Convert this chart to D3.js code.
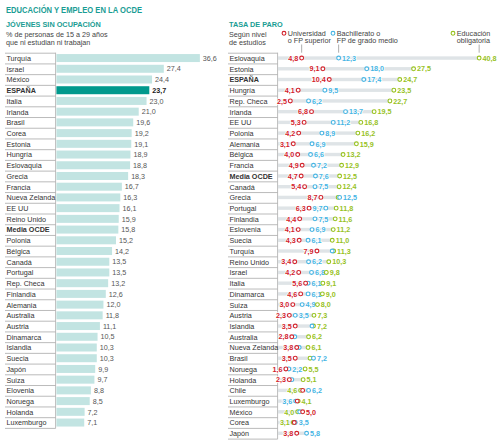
<!DOCTYPE html>
<html>
<head>
<meta charset="utf-8">
<script src="https://cdn.jsdelivr.net/npm/d3@7"></script>
<style>
body { margin: 0; background: #fff; }
text { font-family: "Liberation Sans", Arial, sans-serif; }
</style>
</head>
<body>
<div id="chart-area"></div>
<script>
// Jóvenes sin ocupación (% de 15 a 29 años)
var neetCountries = ["Turquía", "Israel", "México", "ESPAÑA", "Italia", "Irlanda", "Brasil", "Corea",
	"Estonia", "Hungría", "Eslovaquia", "Grecia", "Francia", "Nueva Zelanda", "EE UU", "Reino Unido",
	"Media OCDE", "Polonia", "Bélgica", "Canadá", "Portugal", "Rep. Checa", "Finlandia", "Alemania",
	"Australia", "Austria", "Dinamarca", "Islandia", "Suecia", "Japón", "Suiza", "Elovenia", "Noruega",
	"Holanda", "Luxemburgo"];
var neetValues = [36.6, 27.4, 24.4, 23.7, 23.0, 21.0, 19.6, 19.2, 19.1, 18.9, 18.8, 18.3, 16.7, 16.3,
	16.1, 15.9, 15.8, 15.2, 14.2, 13.5, 13.5, 13.2, 12.6, 12.0, 11.8, 11.1, 10.5, 10.3, 10.3, 9.9, 9.7,
	8.8, 8.5, 7.2, 7.1];

// Tasa de paro segun nivel de estudios
var paroCountries = ["Eslovaquia", "Estonia", "ESPAÑA", "Hungría", "Rep. Checa", "Irlanda", "EE UU",
	"Polonia", "Alemania", "Bélgica", "Francia", "Media OCDE", "Canadá", "Grecia", "Portugal", "Finlandia",
	"Eslovenia", "Suecia", "Turquía", "Reino Unido", "Israel", "Italia", "Dinamarca", "Suiza", "Austria",
	"Islandia", "Australia", "Nueva Zelanda", "Brasil", "Noruega", "Holanda", "Chile", "Luxemburgo",
	"México", "Corea", "Japón"];
var paroUniv = [4.8, 9.1, 10.4, 4.1, 2.5, 6.8, 5.3, 4.2, 3.1, 4.0, 4.9, 4.7, 5.4, 8.7, 6.3, 4.4, 4.1,
	4.3, 7.9, 3.4, 4.2, 5.6, 4.6, 3.0, 2.3, 3.5, 2.8, 3.8, 3.5, 1.6, 2.3, 5.0, 3.9, 5.0, 3.3, 3.8];
var paroBach = [12.3, 18.0, 17.4, 9.5, 6.2, 13.7, 11.2, 8.9, 6.9, 6.6, 7.2, 7.6, 7.5, 12.5, 9.7, 7.5,
	6.9, 6.1, 11.0, 6.2, 6.8, 6.1, 6.1, 4.9, 3.5, 6.9, 3.4, 4.3, 7.2, 2.2, 2.8, 6.2, 3.6, 4.4, 3.5, 5.8];
var paroOblig = [40.8, 27.5, 24.7, 23.5, 22.7, 19.5, 16.8, 16.2, 15.9, 13.2, 12.9, 12.5, 12.4, 12.2,
	11.8, 11.6, 11.2, 11.0, 11.3, 10.3, 9.8, 9.1, 9.0, 8.0, 7.3, 7.2, 6.2, 6.1, 6.5, 5.5, 5.1, 4.6, 4.1,
	4.0, 3.1, null];

var width = 500, height = 442;
var teal = "#1a9d94", spainTeal = "#00998d", barColor = "#c2e4e2";
var colors = {u: "#d3222b", b: "#46b5e4", o: "#97c21e"};
var rowH = 10.72, top0 = 52.7, fs = "7.2px";
var bold = function(d){ return (d == "ESPAÑA" || d == "Media OCDE") ? "bold" : "normal"; };

var fmt = d3.formatLocale({decimal: ",", thousands: ".", grouping: [3], currency: ["", ""]}).format(".1f");

var svg = d3.select("#chart-area")
.append("svg")
	.attr("width", width)
	.attr("height", height);

	// Titles
svg.append("text")
	.attr("x", 6).attr("y", 12.5)
	.attr("font-size", "9px").attr("font-weight", "bold")
	.attr("fill", teal)
	.attr("textLength", 136).attr("lengthAdjust", "spacingAndGlyphs")
	.text("EDUCACIÓN Y EMPLEO EN LA OCDE");

svg.append("text")
	.attr("x", 6).attr("y", 26.8)
	.attr("font-size", "7.3px").attr("font-weight", "bold")
	.attr("fill", teal)
	.text("JÓVENES SIN OCUPACIÓN");

svg.append("text")
	.attr("x", 229).attr("y", 26.8)
	.attr("font-size", "7.3px").attr("font-weight", "bold")
	.attr("fill", teal)
	.text("TASA DE PARO");

function lines(x, y, arr){
	arr.forEach(function(t, i){
		svg.append("text")
			.attr("x", x).attr("y", y + i * 8)
			.attr("font-size", fs).attr("fill", "#444")
			.text(t);
	});
}
lines(6, 36.5, ["% de personas de 15 a 29 años", "que ni estudian ni trabajan"]);
lines(229, 36.5, ["Según nivel", "de estudios"]);

// ---------- left panel: bars ----------
var xL = d3.scaleLinear().domain([0, 40]).range([56.4, 56.4 + 40 * 3.92]);
var yL = d3.scaleBand().domain(neetCountries).range([top0, top0 + neetCountries.length * rowH]);

var neet = neetCountries.map(function(c, i){ return {name: c, value: neetValues[i]}; });

function labelColumn(g, scale, x1, x2){
	var names = scale.domain();
	g.append("g").selectAll("line")
		.data(names.concat(["_end"]))
		.enter().append("line")
			.attr("x1", x1).attr("x2", x2)
			.attr("y1", function(d, i){ return top0 + i * scale.bandwidth() + 0.5; })
			.attr("y2", function(d, i){ return top0 + i * scale.bandwidth() + 0.5; })
			.attr("stroke", "#a9a9a9").attr("stroke-width", 0.8);
	g.append("line")
		.attr("x1", x2).attr("x2", x2)
		.attr("y1", top0).attr("y2", scale.range()[1] + 0.5)
		.attr("stroke", "#a9a9a9").attr("stroke-width", 0.8);
	g.append("g").selectAll("text")
		.data(names)
		.enter().append("text")
			.attr("x", x1 + 1.5)
			.attr("y", function(d){ return scale(d) + scale.bandwidth() / 2 + 2.9; })
			.attr("font-size", fs)
			.attr("font-weight", bold)
			.attr("fill", "#333")
			.text(function(d){ return d; });
}

var left = svg.append("g");
labelColumn(left, yL, 5, 55.6);

left.selectAll("rect.bar")
	.data(neet)
	.enter().append("rect")
		.attr("class", "bar")
		.attr("x", xL(0))
		.attr("y", function(d){ return yL(d.name) + (yL.bandwidth() - 8) / 2; })
		.attr("width", function(d){ return xL(d.value) - xL(0); })
		.attr("height", 8)
		.attr("fill", function(d){ return d.name == "ESPAÑA" ? spainTeal : barColor; });

left.selectAll("text.val")
	.data(neet)
	.enter().append("text")
		.attr("class", "val")
		.attr("x", function(d){ return xL(d.value) + 3; })
		.attr("y", function(d){ return yL(d.name) + yL.bandwidth() / 2 + 2.7; })
		.attr("font-size", fs)
		.attr("font-weight", function(d){ return d.name == "ESPAÑA" ? "bold" : "normal"; })
		.attr("fill", function(d){ return d.name == "ESPAÑA" ? "#222" : "#555"; })
		.text(function(d){ return fmt(d.value); });

// ---------- right panel: dot plot ----------
var xR = d3.scaleLinear().domain([0, 40]).range([278, 278 + 40 * 4.93]);
var yR = d3.scaleBand().domain(paroCountries).range([top0, top0 + paroCountries.length * rowH]);

var right = svg.append("g");
labelColumn(right, yR, 228, 277.6);

var paro = paroCountries.map(function(c, i){
	var pts = [{k: "o", v: paroOblig[i]}, {k: "b", v: paroBach[i]}, {k: "u", v: paroUniv[i]}]
		.filter(function(p){ return p.v != null; });
	var sorted = pts.slice().sort(function(a, b){ return a.v - b.v; });
	// label placement: lowest to the left, highest to the right, middle where it fits
	sorted.forEach(function(p, j){
		if (j == 0) p.side = "left";
		else if (j == sorted.length - 1) p.side = "right";
		else {
			var gapR = xR(sorted[j + 1].v) - xR(p.v);
			var gapL = xR(p.v) - xR(sorted[j - 1].v);
			if (gapR >= 14) p.side = "right";
			else if (gapR >= 5 && gapL >= 15) p.side = "left";
			else p.side = null;
		}
	});
	return {name: c, pts: pts, max: d3.max(pts, function(p){ return p.v; })};
});

var rows = right.selectAll("g.row")
	.data(paro)
	.enter().append("g")
		.attr("class", "row")
		.attr("transform", function(d){ return "translate(0," + (yR(d.name) + yR.bandwidth() / 2) + ")"; });

rows.append("rect")
	.attr("x", xR(0))
	.attr("y", -1.7)
	.attr("width", function(d){ return xR(d.max) - xR(0); })
	.attr("height", 3.4)
	.attr("fill", "#dfe4e7");

rows.selectAll("text.lab")
	.data(function(d){ return d.pts.filter(function(p){ return p.side; }); })
	.enter().append("text")
		.attr("class", "lab")
		.attr("x", function(p){ return p.side == "left" ? xR(p.v) - 3.4 : xR(p.v) + 3.4; })
		.attr("y", 2.7)
		.attr("text-anchor", function(p){ return p.side == "left" ? "end" : "start"; })
		.attr("font-size", fs)
		.attr("font-weight", "bold")
		.attr("fill", function(p){ return colors[p.k]; })
		.attr("stroke", "#fff").attr("stroke-width", 1.6)
		.attr("paint-order", "stroke")
		.text(function(p){ return fmt(p.v); });

rows.selectAll("circle")
	.data(function(d){ return d.pts; })
	.enter().append("circle")
		.attr("cx", function(p){ return xR(p.v); })
		.attr("cy", 0)
		.attr("r", 1.9)
		.attr("fill", "#fff")
		.attr("stroke", function(p){ return colors[p.k]; })
		.attr("stroke-width", 1.1);

// ---------- legend ----------
var legendItems = [
	{k: "u", x: 284, lines: ["Universidad", "o FP superior"], v: paroUniv[0]},
	{k: "b", x: 333, lines: ["Bachillerato o", "FP de grado medio"], v: paroBach[0]},
	{k: "o", x: 453, lines: ["Educación", "obligatoria"], v: paroOblig[0]}
];
var legend = svg.append("g");
legendItems.forEach(function(item){
	legend.append("circle")
		.attr("cx", item.x).attr("cy", 33.3).attr("r", 1.9)
		.attr("fill", "#fff").attr("stroke", colors[item.k]).attr("stroke-width", 1.1);
	item.lines.forEach(function(t, i){
		legend.append("text")
			.attr("x", item.x + 3.8).attr("y", 35.8 + i * 7.6)
			.attr("font-size", fs).attr("fill", "#444")
			.text(t);
	});
	legend.append("line")
		.attr("x1", xR(item.v)).attr("x2", xR(item.v))
		.attr("y1", 44.5).attr("y2", top0)
		.attr("stroke", "#999").attr("stroke-width", 0.8);
});
</script>
</body>
</html>
